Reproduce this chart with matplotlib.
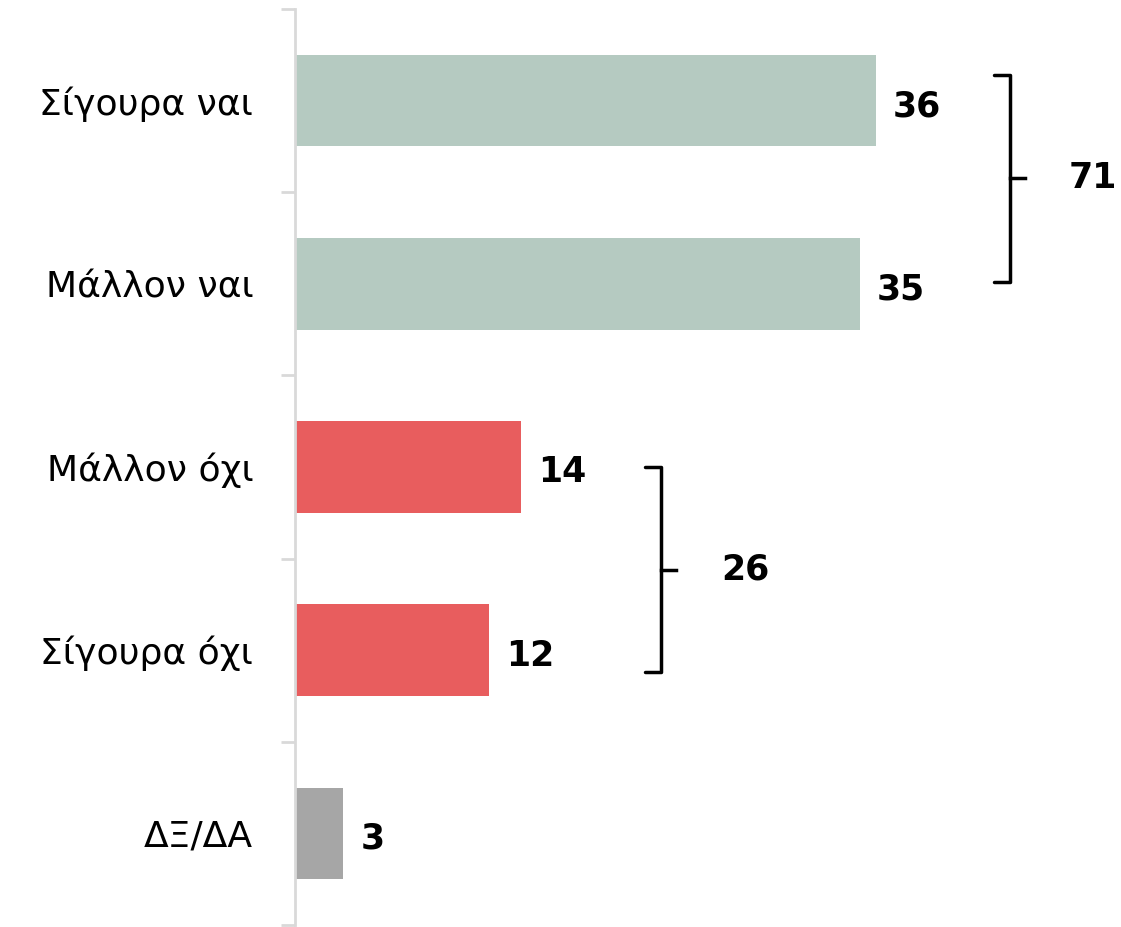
import matplotlib.pyplot as plt

categories = ["Σίγουρα ναι", "Μάλλον ναι", "Μάλλον όχι", "Σίγουρα όχι", "ΔΞ/ΔΑ"]
values = [36, 35, 14, 12, 3]
colors = ["#b5cac1", "#b5cac1", "#e85d5e", "#e85d5e", "#a6a6a6"]
group_totals = [71, 26]

SPINE = "#d9d9d9"

plt.rcParams["font.family"] = ["DejaVu Sans"]

fig = plt.figure(figsize=(11.21, 9.27), dpi=100)
ax = fig.add_axes([295 / 1121, 2 / 927, 826 / 1121, 916 / 927])

y = list(range(len(categories)))
ax.barh(y, values, height=0.5, color=colors)
ax.set_ylim(4.5, -0.5)
ax.set_xlim(0, 826 / 16.14)

for yi, v in zip(y, values):
    ax.text(v + 1.05, yi + 0.03, str(v), va="center", ha="left",
            fontsize=25, fontweight="bold", color="black")


def bracket(ax, x, y0, y1, total, label_x):
    ym = (y0 + y1) / 2
    ax.plot([x - 1.0, x, x, x - 1.0], [y0, y0, y1, y1], color="black", lw=2.5,
            clip_on=False, solid_joinstyle="round", solid_capstyle="round")
    ax.plot([x, x + 0.9], [ym, ym], color="black", lw=2.5, clip_on=False)
    ax.text(label_x, ym, str(total), va="center", ha="center",
            fontsize=25, fontweight="bold", color="black")


bracket(ax, 44.3, -0.14, 0.99, group_totals[0], 49.4)
bracket(ax, 22.7, 2.0, 3.12, group_totals[1], 27.9)

ax.set_yticks(y)
ax.set_yticklabels(categories, fontsize=26)
ax.tick_params(axis="y", length=0, pad=30)
ax.set_yticks([-0.5, 0.5, 1.5, 2.5, 3.5, 4.5], minor=True)
ax.tick_params(axis="y", which="minor", length=10, width=2, color=SPINE)
ax.set_xticks([])

for side in ["top", "right", "bottom"]:
    ax.spines[side].set_visible(False)
ax.spines["left"].set_color(SPINE)
ax.spines["left"].set_linewidth(2)

fig.savefig("out.png", dpi=100, facecolor="white")
